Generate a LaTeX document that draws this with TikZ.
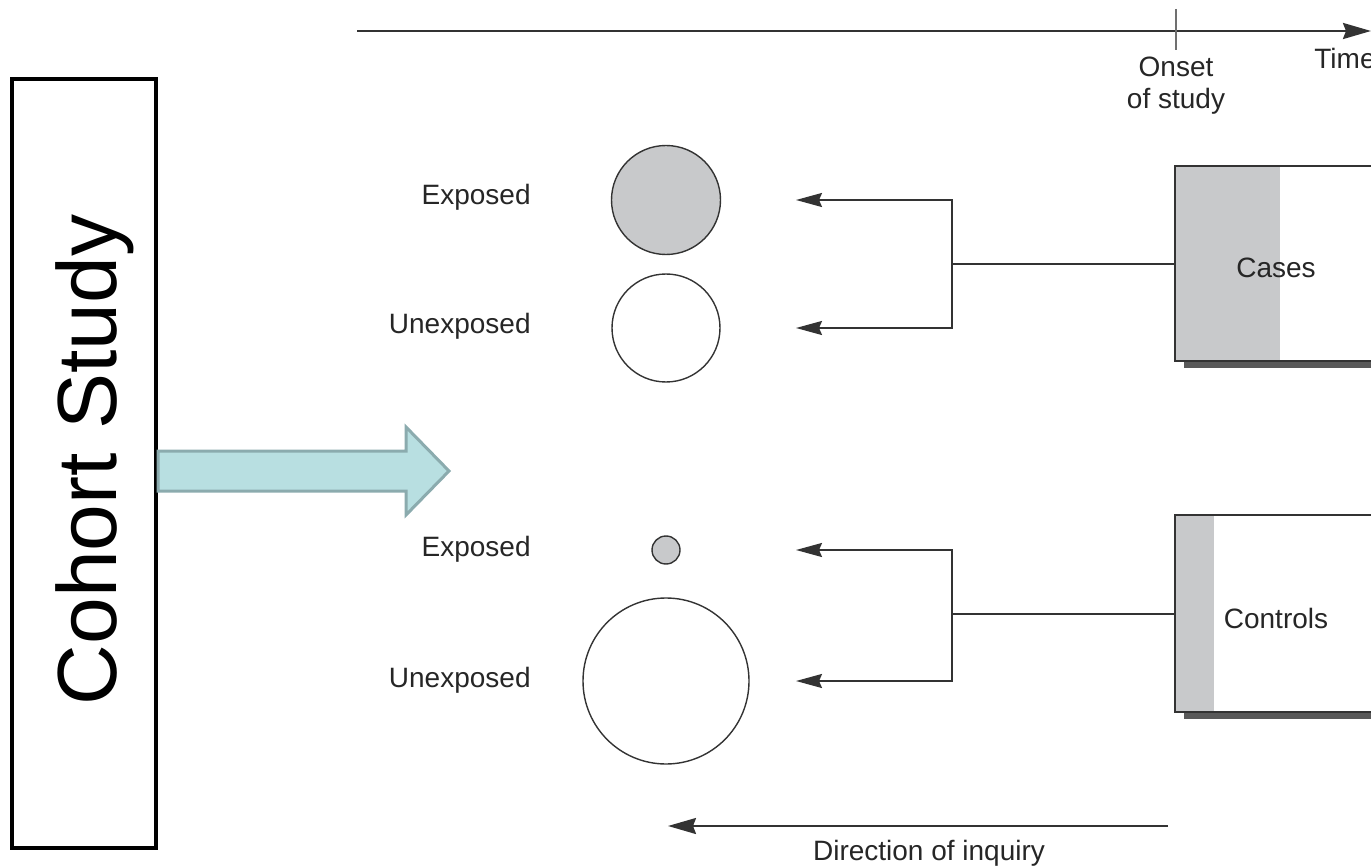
\documentclass[tikz,border=0pt]{standalone}
\usepackage{fontspec}
\setmainfont{Liberation Sans}
\usetikzlibrary{arrows.meta,shadows}

\definecolor{shadegray}{HTML}{C8C9CB}
\definecolor{linegray}{HTML}{333333}
\definecolor{tealfill}{HTML}{B8DFE1}
\definecolor{tealline}{HTML}{8BABAE}

\tikzset{
	lbl/.style={font=\fontsize{14}{16}\selectfont, text=black!85, inner sep=0pt},
	grp/.style={circle, draw=linegray, line width=0.7pt, inner sep=0pt},
	link/.style={draw=linegray, line width=1pt},
	inq/.style={link, -{Stealth[length=13pt,width=7pt,inset=1.5pt]}},
	timearrow/.style={link, line width=1.2pt, -{Stealth[length=14pt,width=8pt,inset=1.5pt]}},
	studybox/.style={draw=linegray, line width=1.2pt, fill=white, inner sep=0pt,
		minimum width=130pt, anchor=north west,
		drop shadow={shadow xshift=4.5pt, shadow yshift=-3.5pt, fill=black!65, opacity=1}},
	strip/.style={path picture={\fill[shadegray] (path picture bounding box.north west)
		rectangle ([xshift=#1]path picture bounding box.south west);}},
}

\begin{document}
\begin{tikzpicture}[x=0.5pt, y=-0.5pt]
	\useasboundingbox (0, 0) rectangle (1371, 866);

	% time line
	\coordinate (tstart) at (357, 31);
	\coordinate (tend) at (1371, 31);
	\draw[timearrow] (tstart) -- (tend);
	\draw[linegray!70, line width=0.8pt] (1176, 9) -- (1176, 50);
	\node[lbl, align=center] (onset) at (1176, 86) {Onset\\of study};
	\node[lbl, anchor=west] (time) at (1314, 58) {Time};

	% cohort box
	\node[draw, line width=2pt, minimum width=72pt, minimum height=384.5pt] (cohort) at (84, 463.5) {};
	\node[rotate=90, font=\fontsize{42}{50}\selectfont] (cohortlbl) at (95, 460) {Cohort Study};
	\draw[fill=tealfill, draw=tealline, line width=1.5pt, line join=miter]
		(cohort.east |- 0,451) -- ++(248, 0) -- ++(0, -24) -- ++(43, 44) -- ++(-43, 44)
		-- ++(0, -24) -- (cohort.east |- 0,491) -- cycle;

	% groups
	\node[grp, fill=shadegray, minimum size=54.5pt] (exp1) at (666, 200) {};
	\node[grp, minimum size=54pt] (unexp1) at (666, 328) {};
	\node[grp, fill=shadegray, minimum size=14pt] (exp2) at (666, 550) {};
	\node[grp, minimum size=83pt] (unexp2) at (666, 681) {};
	\node[lbl, anchor=east] (lexp1) at (531, 197) {Exposed};
	\node[lbl, anchor=east] (lunexp1) at (531, 326) {Unexposed};
	\node[lbl, anchor=east] (lexp2) at (531, 549) {Exposed};
	\node[lbl, anchor=east] (lunexp2) at (531, 680) {Unexposed};

	% cases and controls
	\node[studybox, strip=52.5pt, minimum height=97.5pt] (cases) at (1174, 165) {};
	\node[studybox, strip=19.5pt, minimum height=98.5pt] (controls) at (1174, 514) {};
	\node[lbl] (caseslbl) at (1276, 268) {Cases};
	\node[lbl] (controlslbl) at (1276, 618) {Controls};

	% inquiry arrows
	\coordinate (t1) at (796, 200);
	\coordinate (t2) at (796, 328);
	\coordinate (t3) at (796, 550);
	\coordinate (t4) at (796, 681);
	\coordinate (jcases) at (cases.west -| 952,0);
	\coordinate (jcontrols) at (controls.west -| 952,0);
	\draw[link] (cases.west) -- (jcases);
	\draw[inq] (jcases) |- (t1);
	\draw[inq] (jcases) |- (t2);
	\draw[link] (controls.west) -- (jcontrols);
	\draw[inq] (jcontrols) |- (t3);
	\draw[inq] (jcontrols) |- (t4);

	% direction of inquiry
	\coordinate (dstart) at (1168, 826);
	\coordinate (dend) at (668, 826);
	\draw[timearrow, line width=1pt] (dstart) -- (dend);
	\node[lbl, anchor=base] (dirlbl) at (929, 860) {Direction of inquiry};
\end{tikzpicture}
\end{document}
